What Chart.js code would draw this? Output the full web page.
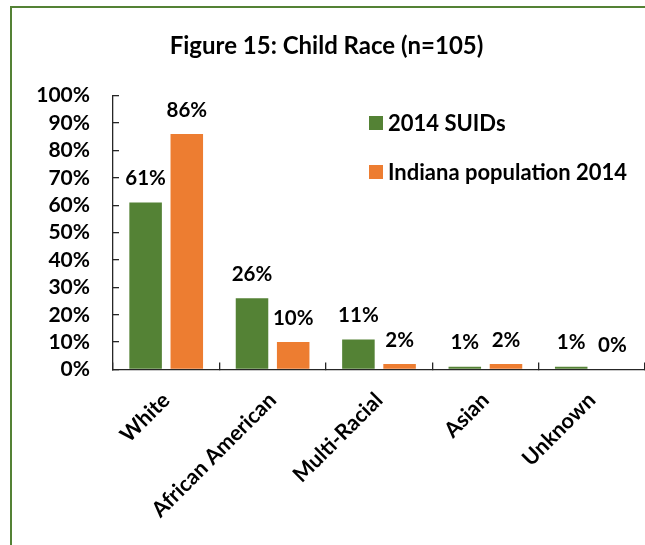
<!DOCTYPE html>
<html>
<head>
<meta charset="utf-8">
<script src="https://cdn.jsdelivr.net/npm/chart.js@4.4.1/dist/chart.umd.min.js"></script>
<style>
  html, body { margin: 0; padding: 0; background: #ffffff; }
  #wrap { position: relative; width: 645px; height: 545px; overflow: hidden; }
  #frame { position: absolute; left: 10px; top: 6px; width: 700px; height: 600px;
           border: 2px solid #548235; box-sizing: border-box; }
  canvas { position: absolute; left: 0; top: 0; }
</style>
</head>
<body>
<div id="wrap">
  <div id="frame"></div>
  <canvas id="c" width="645" height="545"></canvas>
</div>
<script>
const titleText = 'Figure 15: Child Race (n=105)';
const categories = ['White', 'African American', 'Multi-Racial', 'Asian', 'Unknown'];
const suids2014 = [61, 26, 11, 1, 1];
const indianaPop2014 = [86, 10, 2, 2, 0];
const seriesNames = ['2014 SUIDs', 'Indiana population 2014'];
const seriesColors = ['#548235', '#ED7D31'];
const yMin = 0, yMax = 100, yStep = 10;

const FONT = 'Lato, "Open Sans", sans-serif';

const dataLabels = {
  id: 'dataLabels',
  afterDatasetsDraw(chart) {
    const ctx = chart.ctx;
    ctx.save();
    ctx.font = 'bold 20.5px ' + FONT;
    ctx.fillStyle = '#000';
    ctx.textAlign = 'center';
    ctx.textBaseline = 'middle';
    chart.data.datasets.forEach((ds, di) => {
      const meta = chart.getDatasetMeta(di);
      meta.data.forEach((bar, i) => {
        ctx.fillText(ds.data[i] + '%', bar.x, bar.y - 24);
      });
    });
    ctx.restore();
  }
};

const sideLegend = {
  id: 'sideLegend',
  afterDraw(chart) {
    const ctx = chart.ctx;
    ctx.save();
    ctx.font = 'bold 22px ' + FONT;
    ctx.textAlign = 'left';
    ctx.textBaseline = 'middle';
    chart.data.datasets.forEach((ds, di) => {
      const cy = 123 + di * 49;
      ctx.fillStyle = ds.backgroundColor;
      ctx.fillRect(369, cy - 7, 14, 14);
      ctx.fillStyle = '#000';
      ctx.fillText(ds.label, 388, cy + 1);
    });
    ctx.restore();
  }
};

new Chart(document.getElementById('c'), {
  type: 'bar',
  data: {
    labels: categories,
    datasets: [
      { label: seriesNames[0], data: suids2014, backgroundColor: seriesColors[0],
        categoryPercentage: 0.774, barPercentage: 0.79 },
      { label: seriesNames[1], data: indianaPop2014, backgroundColor: seriesColors[1],
        categoryPercentage: 0.774, barPercentage: 0.79 }
    ]
  },
  options: {
    responsive: false,
    animation: false,
    devicePixelRatio: 1,
    layout: { padding: { left: 0, right: -8, top: 32, bottom: 0 } },
    plugins: {
      legend: { display: false },
      tooltip: { enabled: false },
      title: {
        display: true,
        text: titleText,
        color: '#000',
        font: { family: FONT, size: 24, weight: 'bold', lineHeight: 1.2 },
        padding: { top: 0, bottom: 34.9 }
      }
    },
    scales: {
      x: {
        grid: { display: true, offset: true, drawOnChartArea: false, drawTicks: true,
                tickLength: -7, color: '#262626', lineWidth: 1.3 },
        border: { display: true, color: '#262626', width: 1.3 },
        ticks: { color: '#000', font: { family: FONT, size: 21.5, weight: 'bold' },
                 minRotation: 45, maxRotation: 45, padding: 25, autoSkip: false },
        afterFit(scale) { scale.height = 175.5; }
      },
      y: {
        min: yMin, max: yMax,
        grid: { display: true, drawOnChartArea: false, drawTicks: true,
                tickLength: -6, color: '#262626', lineWidth: 1.3 },
        border: { display: true, color: '#262626', width: 1.3 },
        ticks: { stepSize: yStep, autoSkip: false, color: '#000',
                 font: { family: FONT, size: 21, weight: 'bold' },
                 padding: 29, callback: v => v + '%' },
        afterFit(scale) { scale.width = 113; }
      }
    }
  },
  plugins: [dataLabels, sideLegend]
});
</script>
</body>
</html>
